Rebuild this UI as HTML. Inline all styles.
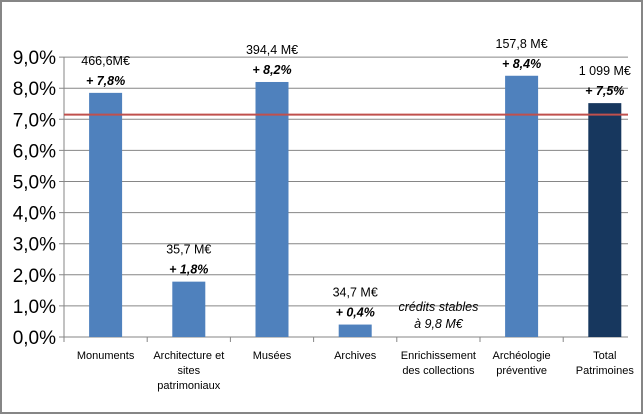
<!DOCTYPE html>
<html><head><meta charset="utf-8"><style>
body{margin:0;background:#fff}
svg{display:block;font-family:"Liberation Sans",sans-serif}
</style></head><body>
<svg id="c" width="644" height="415">
<rect x="1" y="1" width="641" height="412" fill="#fff" stroke="#868686" stroke-width="2"/>
<g id="g"></g>
</svg>
<script>
const categories=[["Monuments"],["Architecture et","sites","patrimoniaux"],["Musées"],["Archives"],["Enrichissement","des collections"],["Archéologie","préventive"],["Total","Patrimoines"]];
const values=[7.85,1.78,8.2,0.4,0,8.4,7.52];
const amountLabels=["466,6M€","35,7 M€","394,4 M€","34,7 M€","","157,8 M€","1 099 M€"];
const changeLabels=["+ 7,8%","+ 1,8%","+ 8,2%","+ 0,4%","","+ 8,4%","+ 7,5%"];
const yTicks=[0,1,2,3,4,5,6,7,8,9];
const refValue=7.15;
const NS="http://www.w3.org/2000/svg",g=document.getElementById("g");
const x0=64,cw=83.2,yb=337,ppu=31.1;
const X=i=>x0+cw*(i+0.5),Y=v=>yb-v*ppu;
function mk(t,a,txt){const e=document.createElementNS(NS,t);for(const k in a)e.setAttribute(k,a[k]);if(txt!==undefined)e.textContent=txt;g.appendChild(e);return e;}
yTicks.forEach(v=>{
const l=mk("line",{x1:x0-5,x2:628,y1:Y(v),y2:Y(v),stroke:"#868686","stroke-width":1});


const t=mk("text",{x:x0-8,y:Y(v)+7,"text-anchor":"end","font-size":19,fill:"#000"},v.toFixed(1).replace(".",",")+"%");


});
const ax=mk("line",{x1:x0,x2:x0,y1:Y(9),y2:yb+5,stroke:"#868686"});


for(let i=0;i<=categories.length;i++){
const tk=mk("line",{x1:x0+cw*i,x2:x0+cw*i,y1:yb,y2:yb+5,stroke:"#868686"});


}
categories.forEach((c,i)=>{
const v=values[i];
if(v>0){const b=mk("rect",{x:X(i)-16.5,y:Y(v),width:33,height:yb-Y(v),fill:i==6?"#17375e":"#4f81bd"});

}
c.forEach((ln,j)=>{const t=mk("text",{x:X(i),y:yb+22+j*15,"text-anchor":"middle","font-size":11,fill:"#000"},ln);

});
if(amountLabels[i]){
const a=mk("text",{x:X(i),y:Y(v)-28,"text-anchor":"middle","font-size":12.5,fill:"#000"},amountLabels[i]);


const p=mk("text",{x:X(i),y:Y(v)-8,"text-anchor":"middle","font-size":12.5,"font-weight":"bold","font-style":"italic",fill:"#000"},changeLabels[i]);


}
});
const s1=mk("text",{x:X(4),y:Y(0)-26,"text-anchor":"middle","font-size":12.5,"font-style":"italic"},"crédits stables");


const s2=mk("text",{x:X(4),y:Y(0)-9,"text-anchor":"middle","font-size":12.5,"font-style":"italic"},"à 9,8 M€");


const r=mk("line",{x1:x0,x2:628,y1:Y(refValue),y2:Y(refValue),stroke:"#c0504d","stroke-width":2});


</script>
</body></html>
